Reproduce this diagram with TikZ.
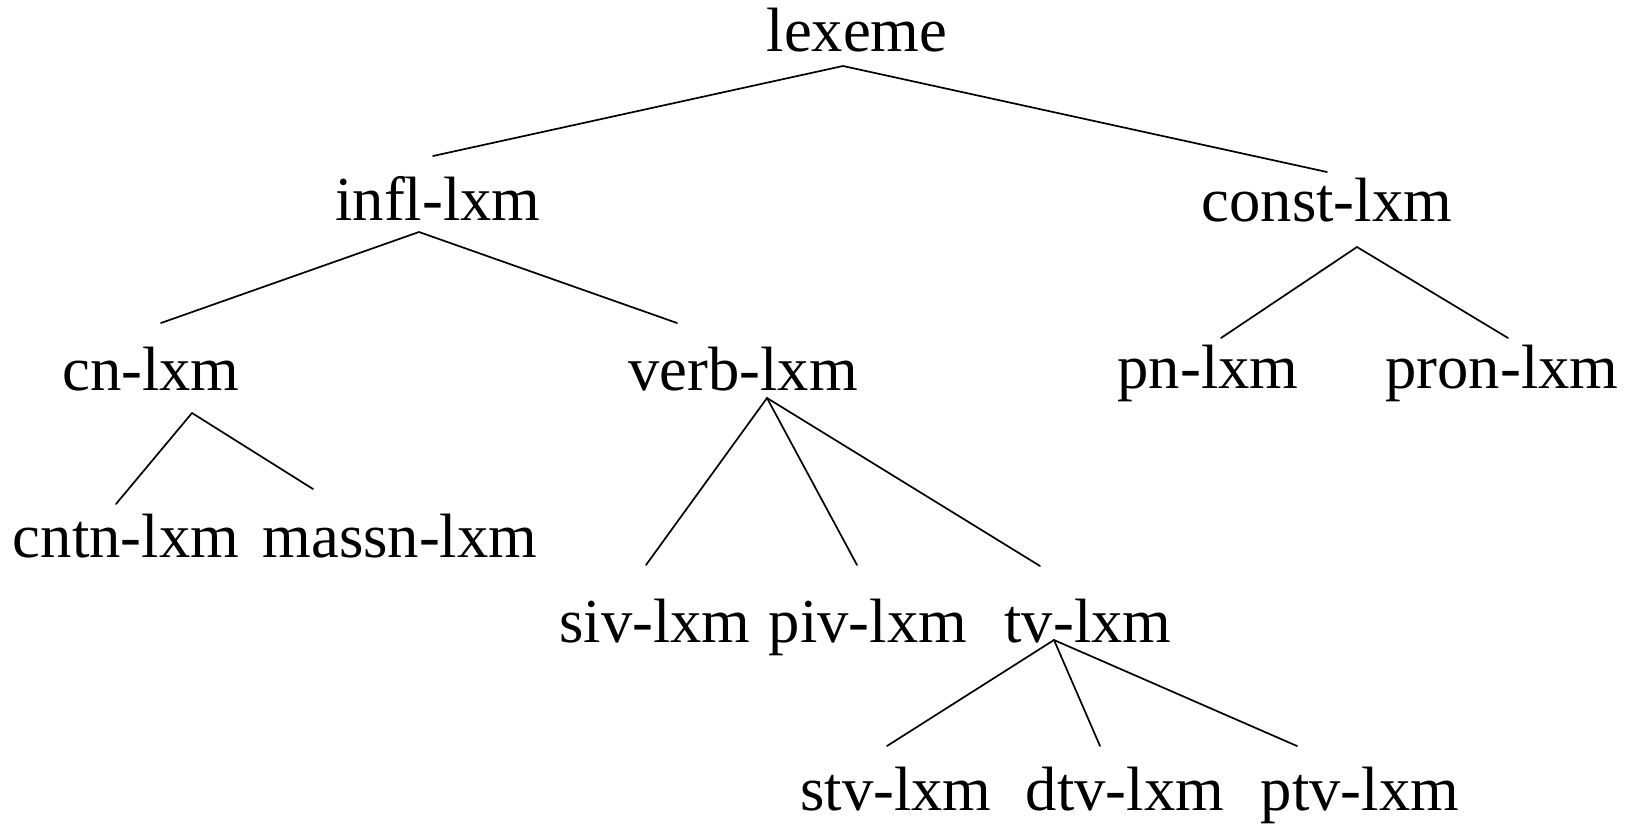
\documentclass[tikz,border=0pt]{standalone}
\usepackage{fontspec}
\setmainfont{Liberation Serif}
\begin{document}
\begin{tikzpicture}[x=1pt,y=-1pt,
  lbl/.style={anchor=base,inner sep=0pt,font=\fontsize{62.6}{72}\selectfont},
  edge/.style={line width=1.7pt,line cap=round}]
\useasboundingbox (0,0) rectangle (1631,824);
% type labels (placed on their baselines)
\node[lbl] (lexeme) at (857,52)  {lexeme};
\node[lbl] (infl)   at (438,220) {infl-lxm};
\node[lbl] (const)  at (1327,222){const-lxm};
\node[lbl] (cn)     at (151,390) {cn-lxm};
\node[lbl] (verb)   at (743,390) {verb-lxm};
\node[lbl] (pn)     at (1208,388){pn-lxm};
\node[lbl] (pron)   at (1502,388){pron-lxm};
\node[lbl] (cntn)   at (126,557) {cntn-lxm};
\node[lbl] (massn)  at (400,557) {massn-lxm};
\node[lbl] (siv)    at (655,642) {siv-lxm};
\node[lbl] (piv)    at (868,642) {piv-lxm};
\node[lbl] (tv)     at (1088,642){tv-lxm};
\node[lbl] (stv)    at (896,810) {stv-lxm};
\node[lbl] (dtv)    at (1125,810){dtv-lxm};
\node[lbl] (ptv)    at (1360,810){ptv-lxm};
% branch points below parents
\coordinate (lexeme-b) at (843,66);
\coordinate (infl-b)   at (419,232);
\coordinate (const-b)  at (1357,247);
\coordinate (cn-b)     at (192,413);
\coordinate (verb-b)   at (767,398);
\coordinate (tv-b)     at (1054,640);
% line ends above children
\coordinate (infl-t)  at (433,156);
\coordinate (const-t) at (1327,172);
\coordinate (cn-t)    at (161,323);
\coordinate (verb-t)  at (677,323);
\coordinate (pn-t)    at (1221,338);
\coordinate (pron-t)  at (1508,338);
\coordinate (cntn-t)  at (116,504);
\coordinate (massn-t) at (313,489);
\coordinate (siv-t)   at (646,565);
\coordinate (piv-t)   at (857,565);
\coordinate (tv-t)    at (1040,566);
\coordinate (stv-t)   at (887,746);
\coordinate (dtv-t)   at (1100,746);
\coordinate (ptv-t)   at (1297,746);
% branches
\draw[edge] (infl-t) -- (lexeme-b) -- (const-t);
\draw[edge] (cn-t) -- (infl-b) -- (verb-t);
\draw[edge] (pn-t) -- (const-b) -- (pron-t);
\draw[edge] (cntn-t) -- (cn-b) -- (massn-t);
\draw[edge] (siv-t) -- (verb-b) -- (tv-t);
\draw[edge] (verb-b) -- (piv-t);
\draw[edge] (stv-t) -- (tv-b) -- (ptv-t);
\draw[edge] (tv-b) -- (dtv-t);
\end{tikzpicture}
\end{document}
